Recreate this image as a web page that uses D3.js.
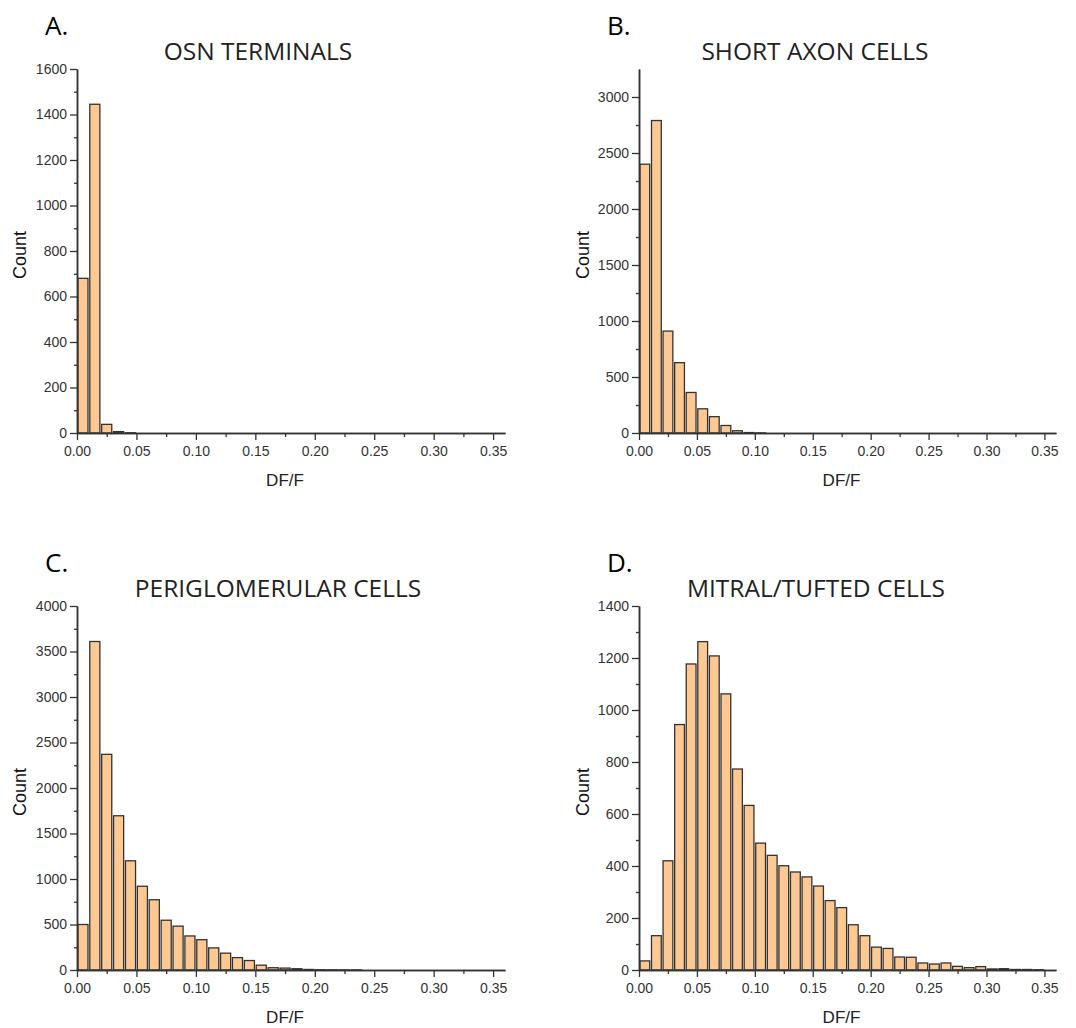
<!DOCTYPE html>
<html lang="en">

<head>
    <meta charset="UTF-8">
    <title>DF/F histograms</title>
    <script src="https://d3js.org/d3.v7.min.js"></script>
    <style>
        body { margin: 0; background: #fff; }
    </style>
</head>

<body>

    <svg width="1076" height="1028"></svg>

</body>

<script>
    // bin width of every histogram (DF/F)
    var binWidth = 0.01;

    // x ticks shared by all panels
    var xTicks = [0, 0.05, 0.10, 0.15, 0.20, 0.25, 0.30, 0.35];
    var xMinorTicks = [0.025, 0.075, 0.125, 0.175, 0.225, 0.275, 0.325];

    // counts per bin
    var countsA = [680, 1445, 38, 6, 1];
    var countsB = [2400, 2790, 910, 628, 362, 216, 146, 67, 20, 4, 1];
    var countsC = [500, 3610, 2370, 1695, 1200, 920, 772, 547, 482, 374, 333, 243,
        185, 136, 104, 53, 25, 21, 14, 6, 3, 2, 1, 1];
    var countsD = [35, 132, 420, 944, 1177, 1263, 1208, 1062, 773, 633, 488, 441,
        401, 377, 358, 323, 267, 240, 174, 132, 88, 83, 50, 49, 27, 23, 27, 14, 9, 13,
        4, 5, 2, 2, 1];

    // y axis ranges and tick steps
    var yMaxes = [1600, 3250, 4000, 1400];
    var yTickMax = [1600, 3000, 4000, 1400];
    var yTickSteps = [200, 500, 500, 200];

    var panelLabels = ['A.', 'B.', 'C.', 'D.'];
    var panelTitles = ['OSN TERMINALS', 'SHORT AXON CELLS', 'PERIGLOMERULAR CELLS', 'MITRAL/TUFTED CELLS'];
    var xLabel = 'DF/F';
    var yLabel = 'Count';

    var allCounts = [countsA, countsB, countsC, countsD];

    var svg = d3.select('svg');

    // where each panel sits on the page
    var layout = [
        { left: 77, right: 505, top: 69, bottom: 433, titleX: 258, labelX: 45, countX: 20 },
        { left: 639, right: 1056, top: 69, bottom: 433, titleX: 815, labelX: 607, countX: 583 },
        { left: 77, right: 505, top: 606, bottom: 970, titleX: 278, labelX: 45, countX: 20 },
        { left: 639, right: 1056, top: 606, bottom: 970, titleX: 816, labelX: 607, countX: 583 }
    ];

    var barFill = '#fec893';
    var lineColor = '#333333';

    layout.forEach(function(p, i) {
        drawPanel(p, i);
    });

    function drawPanel(p, i) {
        var counts = allCounts[i];
        var g = svg.append('g');

        var x = d3.scaleLinear().domain([0, 0.36]).range([p.left, p.right]);
        var y = d3.scaleLinear().domain([0, yMaxes[i]]).range([p.bottom, p.top]);

        var yMajor = d3.range(0, yTickMax[i] + 1, yTickSteps[i]);
        var yMinor = d3.range(yTickSteps[i] / 2, yMaxes[i], yTickSteps[i]);

        // bars
        var gap = 1.8;
        g.append('g')
            .selectAll('rect')
            .data(counts.filter(function(c) { return c > 0; }))
            .join('rect')
            .attr('x', function(d, k) { return x(k * binWidth) + gap / 2; })
            .attr('width', x(binWidth) - x(0) - gap)
            .attr('y', function(d) { return y(d); })
            .attr('height', function(d) { return y(0) - y(d); })
            .attr('fill', barFill)
            .attr('stroke', lineColor)
            .attr('stroke-width', 1.3);

        // minor ticks first, then the main axes over them
        g.append('g')
            .attr('transform', 'translate(0,' + p.bottom + ')')
            .call(d3.axisBottom(x).tickValues(xMinorTicks).tickSize(4).tickSizeOuter(0).tickFormat(''))
            .call(styleAxis);

        g.append('g')
            .attr('transform', 'translate(' + p.left + ',0)')
            .call(d3.axisLeft(y).tickValues(yMinor).tickSize(3).tickSizeOuter(0).tickFormat(''))
            .call(styleAxis);

        g.append('g')
            .attr('transform', 'translate(0,' + p.bottom + ')')
            .call(d3.axisBottom(x).tickValues(xTicks).tickSize(7).tickSizeOuter(0).tickPadding(6)
                .tickFormat(d3.format('.2f')))
            .call(styleAxis);

        g.append('g')
            .attr('transform', 'translate(' + p.left + ',0)')
            .call(d3.axisLeft(y).tickValues(yMajor).tickSize(7).tickSizeOuter(0).tickPadding(3)
                .tickFormat(d3.format('d')))
            .call(styleAxis);

        // axis titles
        g.append('text')
            .attr('x', (p.left + p.right) / 2 - 6)
            .attr('y', p.bottom + 53)
            .attr('text-anchor', 'middle')
            .attr('font-family', 'Liberation Sans, Arial, sans-serif')
            .attr('font-size', 17)
            .attr('fill', '#222')
            .text(xLabel);

        g.append('text')
            .attr('transform', 'translate(' + (p.countX + 6) + ',' + ((p.top + p.bottom) / 2 + 4) + ') rotate(-90)')
            .attr('text-anchor', 'middle')
            .attr('font-family', 'Liberation Sans, Arial, sans-serif')
            .attr('font-size', 18)
            .attr('fill', '#111')
            .text(yLabel);

        // panel title and letter
        g.append('text')
            .attr('x', p.titleX)
            .attr('y', p.top - 9)
            .attr('text-anchor', 'middle')
            .attr('font-family', 'Open Sans, sans-serif')
            .attr('font-size', 24.5)
            .attr('fill', '#222')
            .text(panelTitles[i]);

        g.append('text')
            .attr('x', p.labelX)
            .attr('y', p.top - 34)
            .attr('font-family', 'Open Sans, sans-serif')
            .attr('font-size', 26)
            .attr('fill', '#000')
            .text(panelLabels[i]);
    }

    function styleAxis(sel) {
        sel.select('.domain').attr('stroke', lineColor).attr('stroke-width', 1.5);
        sel.selectAll('.tick line').attr('stroke', lineColor).attr('stroke-width', 1.3);
        sel.selectAll('.tick text')
            .attr('fill', '#333')
            .attr('font-family', 'Liberation Sans, Arial, sans-serif')
            .attr('font-size', 14);
    }
</script>

</html>
